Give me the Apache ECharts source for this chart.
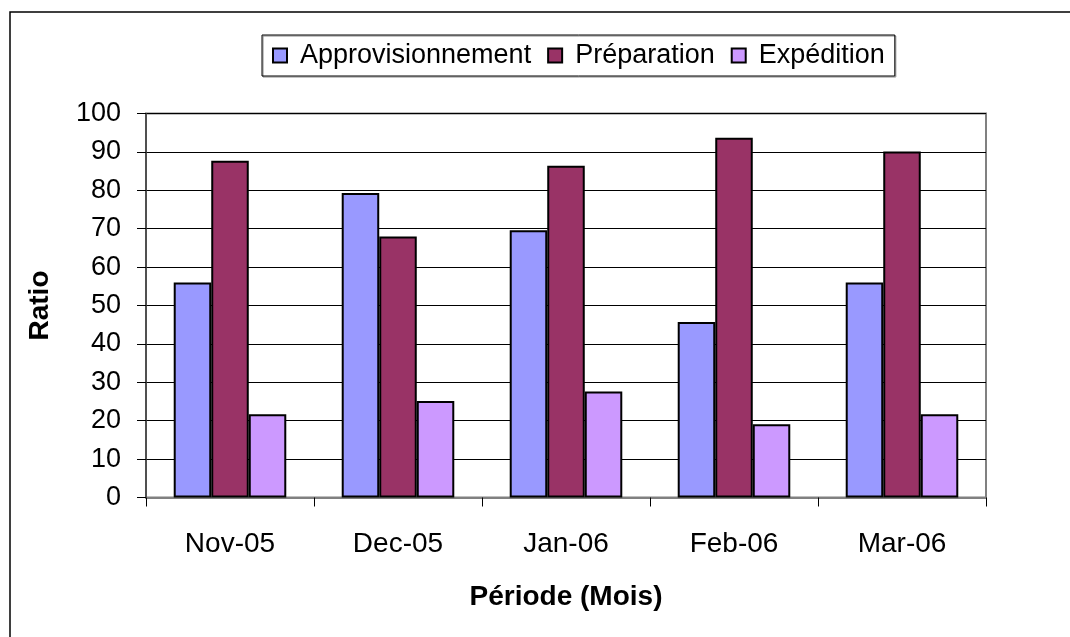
<!DOCTYPE html>
<html>
<head>
<meta charset="utf-8">
<script src="https://cdn.jsdelivr.net/npm/echarts@6/dist/echarts.min.js"></script>
<style>
  html, body { margin: 0; padding: 0; background: #fff; }
  #chart { width: 1070px; height: 637px; }
</style>
</head>
<body>
<div id="chart"></div>
<script>
// periods (x axis)
const months = ['Nov-05', 'Dec-05', 'Jan-06', 'Feb-06', 'Mar-06'];
// ratio per step
const approvisionnement = [56, 79.3, 69.6, 45.7, 56];
const preparation = [87.7, 68, 86.4, 93.7, 90.1];
const expedition = [21.7, 25.1, 27.6, 19.1, 21.7];

const font = 'Liberation Sans, Arial, sans-serif';

function barSeries(name, data, color) {
  return {
    name: name,
    type: 'bar',
    data: data,
    barGap: 0,
    barCategoryGap: '33%',
    itemStyle: { color: color, borderColor: '#000', borderWidth: 2 }
  };
}

const chart = echarts.init(document.getElementById('chart'));
chart.setOption({
  backgroundColor: '#fff',
  animation: false,
  graphic: [{
    type: 'rect',
    shape: { x: 10, y: 12, width: 1200, height: 800 },
    style: { fill: 'none', stroke: '#000', lineWidth: 1.5 },
    z: -1
  }],
  legend: {
    left: 262,
    top: 35,
    itemWidth: 14,
    itemHeight: 14,
    itemGap: 16,
    padding: [7, 10, 7, 10],
    borderColor: '#000',
    borderWidth: 1,
    shadowColor: '#888',
    shadowOffsetX: 1,
    shadowOffsetY: 1,
    icon: 'rect',
    itemStyle: { borderColor: '#000', borderWidth: 2 },
    textStyle: { fontFamily: font, fontSize: 27, color: '#000', padding: [0, 0, 0, 8] },
    data: ['Approvisionnement', 'Préparation', 'Expédition']
  },
  grid: {
    left: 146,
    right: 84,
    top: 113.5,
    bottom: 139.5,
    show: true,
    borderColor: '#808080',
    borderWidth: 2
  },
  xAxis: {
    type: 'category',
    data: months,
    name: 'Période (Mois)',
    nameLocation: 'middle',
    nameGap: 86,
    nameTextStyle: { fontFamily: font, fontSize: 28, fontWeight: 'bold', color: '#000' },
    axisLine: { lineStyle: { color: '#808080', width: 2 } },
    axisTick: { show: true, length: 9, lineStyle: { color: '#000', width: 1 } },
    axisLabel: { fontFamily: font, fontSize: 28, color: '#000', margin: 33 }
  },
  yAxis: {
    type: 'value',
    min: 0,
    max: 100,
    interval: 10,
    name: 'Ratio',
    nameLocation: 'middle',
    nameGap: 92,
    nameRotate: 90,
    nameTextStyle: { fontFamily: font, fontSize: 28, fontWeight: 'bold', color: '#000' },
    axisLine: { show: true, lineStyle: { color: '#404040', width: 1.5 } },
    axisTick: { show: true, length: 9, lineStyle: { color: '#000', width: 1 } },
    axisLabel: { fontFamily: font, fontSize: 27, color: '#000', margin: 25 },
    splitLine: { show: true, lineStyle: { color: '#000', width: 1 } }
  },
  series: [
    barSeries('Approvisionnement', approvisionnement, '#9999FF'),
    barSeries('Préparation', preparation, '#993366'),
    barSeries('Expédition', expedition, '#CC99FF')
  ]
});
</script>
</body>
</html>
